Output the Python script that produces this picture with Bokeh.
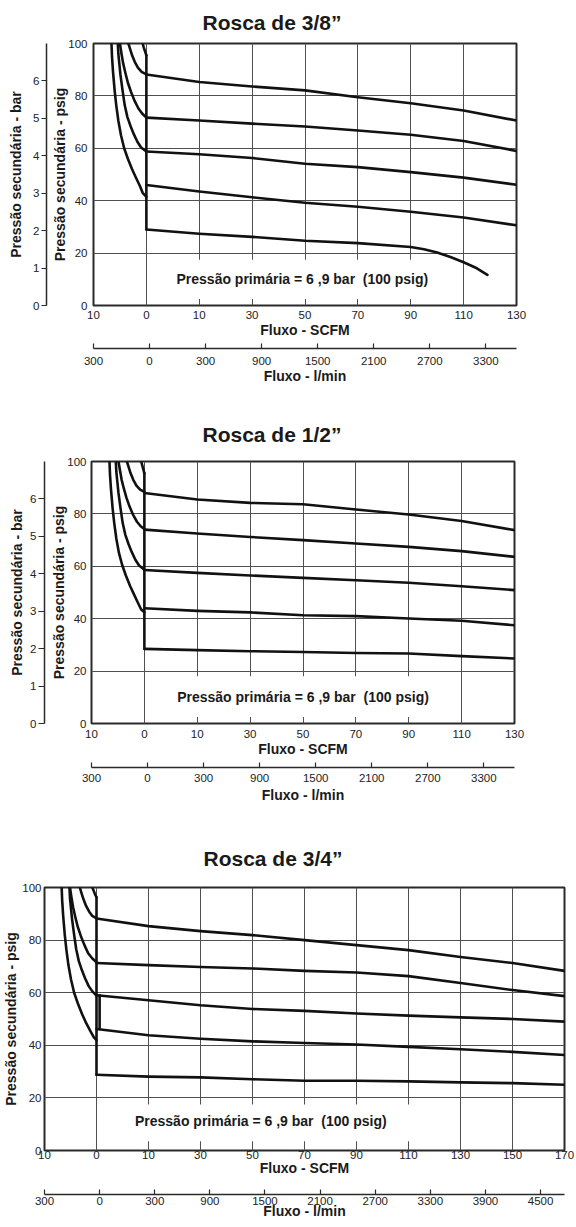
from bokeh.plotting import figure
from bokeh.models import LinearAxis, Range1d, FixedTicker, Label, BoxAnnotation, Title
from bokeh.embed import file_html
from bokeh.resources import INLINE

FONT = "Liberation Sans"
INK = "#1a1a1a"

# ------------------------------------------------------------------ texts
titles = ["Rosca de 3/8\u201d", "Rosca de 1/2\u201d", "Rosca de 3/4\u201d"]
note_text = "Pressão primária = 6 ,9 bar\u00a0 (100 psig)"
x_title = "Fluxo - SCFM"
x2_title = "Fluxo - l/min"
y_title = "Pressão secundária - psig"
y2_title = "Pressão secundária - bar"

# ------------------------------------------------------------------ axes (tick labels as printed)
scfm_labels_a = ["10", "0", "10", "30", "50", "70", "90", "110", "130"]
scfm_labels_b = ["10", "0", "10", "30", "50", "70", "90", "110", "130", "150", "170"]
lmin_labels_a = ["300", "0", "300", "900", "1500", "2100", "2700", "3300"]
lmin_labels_b = ["300", "0", "300", "900", "1500", "2100", "2700", "3300", "3900", "4500"]
lmin_step = 1.06          # SCFM grid cells per l/min tick
psig_ticks = [0, 20, 40, 60, 80, 100]
bar_ticks = [0, 1, 2, 3, 4, 5, 6]
bar_full_scale = 7.0      # bar value at the 100 psig line

# flow positions (SCFM grid index) of the right-hand curves
grid_a = [1, 2, 3, 4, 5, 6, 7, 8]
grid_b = [1, 2, 3, 4, 5, 6, 7, 8, 9, 10]

# ------------------------------------------------------------------ Rosca de 3/8"
c1_l1_x = [0.34, 0.35, 0.37, 0.40, 0.43, 0.47, 0.52, 0.58, 0.65, 0.73, 0.81, 0.88, 0.93, 1.0]
c1_l1_y = [100, 95, 89, 82, 76.5, 70.5, 65, 60, 56, 52, 48.5, 45.5, 43, 41.5]
c1_l2_x = [0.46, 0.47, 0.49, 0.51, 0.55, 0.59, 0.64, 0.70, 0.76, 0.83, 0.90, 1.0]
c1_l2_y = [100, 96, 92, 88, 82, 76.5, 72, 68.5, 65.5, 62.5, 60.3, 58.8]
c1_l3_x = [0.50, 0.53, 0.56, 0.60, 0.65, 0.71, 0.78, 0.85, 0.92, 1.0]
c1_l3_y = [100, 96, 92.5, 89, 85, 81.5, 78, 75.2, 73.3, 71.7]
c1_l4_x = [0.66, 0.69, 0.73, 0.78, 0.84, 0.91, 1.0]
c1_l4_y = [100, 98, 95.5, 93, 90.8, 89.2, 88.2]
c1_l5_x = [0.93, 0.95, 0.975, 1.0]
c1_l5_y = [100, 98.5, 97, 95.5]
c1_v_x = [1, 1]
c1_v_y = [95.5, 29.0]
c1_r1_y = [88.2, 85.3, 83.6, 82.1, 79.5, 77.2, 74.4, 70.6]
c1_r2_y = [71.7, 70.6, 69.4, 68.3, 66.8, 65.2, 62.8, 59.0]
c1_r3_y = [58.8, 57.7, 56.3, 54.1, 52.8, 50.9, 48.8, 46.1]
c1_r4_y = [46.0, 43.5, 41.3, 39.2, 37.7, 35.8, 33.6, 30.6]
c1_r5_x = [1, 2, 3, 4, 5, 6, 6.25, 6.5, 6.75, 7, 7.25, 7.45]
c1_r5_y = [29.0, 27.4, 26.2, 24.7, 23.8, 22.3, 21.5, 20.2, 18.5, 16.5, 14.2, 11.7]

# ------------------------------------------------------------------ Rosca de 1/2"
c2_l1_x = [0.34, 0.35, 0.37, 0.40, 0.43, 0.47, 0.52, 0.58, 0.65, 0.73, 0.81, 0.88, 0.94, 1.0]
c2_l1_y = [100, 95, 89, 82, 76.5, 70.5, 65, 60.5, 56.5, 52.5, 49, 46, 43.5, 42.5]
c2_l2_x = [0.46, 0.47, 0.49, 0.51, 0.55, 0.59, 0.64, 0.70, 0.76, 0.83, 0.90, 1.0]
c2_l2_y = [100, 96, 92, 88, 82, 76.5, 72, 68.5, 65.5, 62.5, 60.3, 58.7]
c2_l3_x = [0.51, 0.54, 0.57, 0.61, 0.66, 0.72, 0.79, 0.86, 0.93, 1.0]
c2_l3_y = [100, 96.5, 93, 89.8, 86.2, 82.8, 79.5, 77, 75.3, 74.2]
c2_l4_x = [0.67, 0.70, 0.74, 0.79, 0.85, 0.92, 1.0]
c2_l4_y = [100, 98, 95.5, 93, 90.8, 89.3, 88.4]
c2_l5_x = [0.94, 0.96, 0.98, 1.0]
c2_l5_y = [100, 98.5, 97, 95.5]
c2_v_x = [1, 1]
c2_v_y = [95.5, 28.5]
c2_r1_y = [88.0, 85.5, 84.2, 83.7, 81.7, 79.8, 77.3, 73.8]
c2_r2_y = [74.0, 72.5, 71.2, 70.0, 68.7, 67.4, 65.8, 63.6]
c2_r3_y = [58.6, 57.5, 56.5, 55.6, 54.7, 53.7, 52.4, 50.9]
c2_r4_y = [44.0, 43.0, 42.4, 41.3, 41.0, 40.1, 39.2, 37.5]
c2_r5_y = [28.5, 28.0, 27.6, 27.3, 26.9, 26.7, 25.7, 24.8]

# ------------------------------------------------------------------ Rosca de 3/4"
c3_l1_x = [0.33, 0.34, 0.36, 0.39, 0.42, 0.46, 0.51, 0.57, 0.64, 0.72, 0.80, 0.88, 0.95, 1.0]
c3_l1_y = [100, 95, 89, 82, 76.5, 70.5, 65, 60, 56, 52, 48.5, 45.5, 43, 42]
c3_l2_x = [0.48, 0.49, 0.51, 0.53, 0.57, 0.61, 0.66, 0.72, 0.78, 0.85, 0.92, 1.0]
c3_l2_y = [100, 96, 92, 88, 82, 76.5, 72, 68.5, 65.5, 62.5, 60.5, 58.9]
c3_l3_x = [0.49, 0.52, 0.55, 0.59, 0.64, 0.70, 0.77, 0.84, 0.92, 1.0]
c3_l3_y = [100, 96, 92.5, 89, 85, 81.5, 78, 75, 73, 71.6]
c3_l4_x = [0.68, 0.71, 0.75, 0.80, 0.86, 0.92, 1.0]
c3_l4_y = [100, 98, 95.5, 93, 90.8, 89.2, 88.3]
c3_l5_x = [0.92, 0.945, 0.97, 1.0]
c3_l5_y = [100, 98.8, 97.5, 96.3]
c3_v_x = [1, 1]
c3_v_y = [96.3, 28.8]
c3_jog_x = [1.06, 1.06]
c3_jog_y = [59.0, 46.2]
c3_r1_y = [88.2, 85.3, 83.4, 81.9, 80.0, 78.1, 76.2, 73.6, 71.3, 68.3]
c3_r2_y = [71.3, 70.5, 69.8, 69.2, 68.3, 67.7, 66.3, 63.7, 61.0, 58.7]
c3_r3_y = [59.0, 57.1, 55.2, 53.8, 53.1, 52.1, 51.3, 50.6, 50.0, 49.0]
c3_r4_y = [46.2, 43.8, 42.5, 41.5, 40.9, 40.3, 39.4, 38.5, 37.5, 36.3]
c3_r5_y = [28.8, 28.1, 27.8, 27.1, 26.5, 26.5, 26.3, 25.9, 25.6, 25.0]


def style_text_axis(ax):
    ax.major_label_text_font = FONT
    ax.major_label_text_font_size = "11.5px"
    ax.major_label_text_color = "#222222"
    ax.axis_label_text_font = FONT
    ax.axis_label_text_font_size = "14px"
    ax.axis_label_text_font_style = "bold"
    ax.axis_label_text_color = INK
    ax.minor_tick_line_color = None


def spacer(range_kw, at, size):
    # an axis with one invisible tick: it only reserves `size` pixels between two neighbours
    return LinearAxis(ticker=FixedTicker(ticks=[at]), axis_line_color=None,
                      major_tick_line_color="white", major_tick_line_width=0.01,
                      minor_tick_line_color=None, major_label_text_color=None,
                      major_label_overrides={at: ""},
                      major_tick_in=0, major_tick_out=size, major_label_standoff=0,
                      **range_kw)


def build(title, scfm_labels, lmin_labels, lines, note_xy, box, cfg):
    n = len(scfm_labels) - 1
    p = figure(width=576, height=cfg["h"], frame_width=cfg["fw"], frame_height=cfg["fh"],
               min_border_left=cfg["bl"], min_border_right=576 - cfg["bl"] - cfg["fw"],
               min_border_top=cfg["bt"], min_border_bottom=cfg["h"] - cfg["bt"] - cfg["fh"],
               x_range=Range1d(0, n), y_range=Range1d(0, 100),
               output_backend="svg", toolbar_location=None, title=None)
    p.extra_x_ranges = {"lmin": Range1d(-0.0001, n / lmin_step)}
    p.background_fill_color = "white"
    p.border_fill_color = "white"
    p.outline_line_color = "#2a2a2a"
    p.outline_line_width = 2

    # title: a spacer next to the frame, then the title text further out
    p.add_layout(spacer({}, 0.5, cfg["t_gap"]), "above")
    p.add_layout(Title(text=title, text_font=FONT, text_font_size="21px", text_font_style="bold",
                       text_color=INK, align="left", offset=cfg["t_off"]), "above")

    # SCFM axis
    xa = p.below[0]
    xa.ticker = FixedTicker(ticks=list(range(n + 1)))
    xa.major_label_overrides = {i: s for i, s in enumerate(scfm_labels)}
    xa.axis_line_color = None
    xa.major_tick_line_color = None
    xa.major_tick_in = 0
    xa.major_tick_out = 0
    xa.major_label_standoff = cfg["x_std"]
    xa.axis_label = x_title
    xa.axis_label_standoff = cfg["x_lab_std"]
    style_text_axis(xa)

    p.add_layout(spacer({"x_range_name": "lmin"}, 0.5, cfg["gap_b"]), "below")

    la = LinearAxis(x_range_name="lmin", ticker=FixedTicker(ticks=list(range(len(lmin_labels)))),
                    major_label_overrides={i: s for i, s in enumerate(lmin_labels)},
                    axis_line_color="#2a2a2a", axis_line_width=1.5,
                    major_tick_line_color="#2a2a2a", major_tick_line_width=1.2,
                    major_tick_in=5, major_tick_out=0,
                    major_label_standoff=cfg["lm_std"],
                    axis_label=x2_title, axis_label_standoff=cfg["lm_lab_std"])
    style_text_axis(la)
    p.add_layout(la, "below")

    # psig axis
    ya = p.left[0]
    ya.ticker = FixedTicker(ticks=psig_ticks)
    ya.axis_line_color = None
    ya.major_tick_line_color = None
    ya.major_tick_in = 0
    ya.major_tick_out = 0
    ya.major_label_standoff = cfg["y_std"]
    ya.axis_label = y_title
    ya.axis_label_standoff = cfg["y_lab_std"]
    style_text_axis(ya)

    if cfg.get("bar"):
        p.extra_y_ranges = {"bar": Range1d(0, bar_full_scale)}
        p.add_layout(spacer({"y_range_name": "bar"}, 0.5, cfg["gap_l"]), "left")
        ba = LinearAxis(y_range_name="bar", ticker=FixedTicker(ticks=bar_ticks),
                        axis_line_color="#2a2a2a", axis_line_width=1.5,
                        major_tick_line_color="#2a2a2a", major_tick_line_width=1.2,
                        major_tick_in=0, major_tick_out=cfg["b_tick"],
                        major_label_standoff=cfg["b_std"],
                        axis_label=y2_title, axis_label_standoff=cfg["b_lab_std"])
        style_text_axis(ba)
        p.add_layout(ba, "left")

    for g in (p.xgrid, p.ygrid):
        g.grid_line_color = "#505050"
        g.grid_line_width = 1

    for xs, ys in lines:
        p.line(xs, ys, line_color="#111111", line_width=2.6, line_join="round", line_cap="round")

    p.add_layout(BoxAnnotation(left=box[0], right=box[1], bottom=box[2], top=box[3],
                               fill_color="white", fill_alpha=1.0, line_color=None))
    p.add_layout(Label(x=note_xy[0], y=note_xy[1], text=note_text, text_align="center",
                       text_baseline="middle", text_font=FONT, text_font_size="14px",
                       text_font_style="bold", text_color=INK))
    return p


lines1 = [(c1_l1_x, c1_l1_y), (c1_l2_x, c1_l2_y), (c1_l3_x, c1_l3_y), (c1_l4_x, c1_l4_y),
          (c1_l5_x, c1_l5_y), (c1_v_x, c1_v_y),
          (grid_a, c1_r1_y), (grid_a, c1_r2_y), (grid_a, c1_r3_y), (grid_a, c1_r4_y),
          (c1_r5_x, c1_r5_y)]
lines2 = [(c2_l1_x, c2_l1_y), (c2_l2_x, c2_l2_y), (c2_l3_x, c2_l3_y), (c2_l4_x, c2_l4_y),
          (c2_l5_x, c2_l5_y), (c2_v_x, c2_v_y),
          (grid_a, c2_r1_y), (grid_a, c2_r2_y), (grid_a, c2_r3_y), (grid_a, c2_r4_y),
          (grid_a, c2_r5_y)]
lines3 = [(c3_l1_x, c3_l1_y), (c3_l2_x, c3_l2_y), (c3_l3_x, c3_l3_y), (c3_l4_x, c3_l4_y),
          (c3_l5_x, c3_l5_y), (c3_v_x, c3_v_y), (c3_jog_x, c3_jog_y),
          (grid_b, c3_r1_y), (grid_b, c3_r2_y), (grid_b, c3_r3_y), (grid_b, c3_r4_y),
          (grid_b, c3_r5_y)]

cfg1 = dict(h=400, fw=423, fh=262, bl=93, bt=43, t_off=109, t_gap=5,
            x_std=5, x_lab_std=0, gap_b=8, lm_std=8, lm_lab_std=0,
            y_std=6, y_lab_std=-3, bar=True, gap_l=3, b_tick=5, b_std=2, b_lab_std=6)
cfg2 = dict(h=420, fw=423, fh=262, bl=91, bt=61, t_off=111, t_gap=11,
            x_std=6, x_lab_std=0, gap_b=8, lm_std=6, lm_lab_std=2,
            y_std=5, y_lab_std=-3, bar=True, gap_l=4, b_tick=6, b_std=2, b_lab_std=2)
cfg3 = dict(h=407, fw=520, fh=263, bl=43, bt=67, t_off=159, t_gap=13,
            x_std=0, x_lab_std=-2, gap_b=16, lm_std=2, lm_lab_std=-5,
            y_std=3, y_lab_std=0, bar=False)

p1 = build(titles[0], scfm_labels_a, lmin_labels_a, lines1, (3.95, 10.0), (1.5, 6.45, 2.5, 17.5), cfg1)
p2 = build(titles[1], scfm_labels_a, lmin_labels_a, lines2, (4.0, 10.2), (1.5, 6.5, 2.5, 18.0), cfg2)
p3 = build(titles[2], scfm_labels_b, lmin_labels_b, lines3, (4.16, 11.3), (1.55, 7.1, 3.5, 17.5), cfg3)

open("out.html", "w").write(file_html([p1, p2, p3], INLINE))
